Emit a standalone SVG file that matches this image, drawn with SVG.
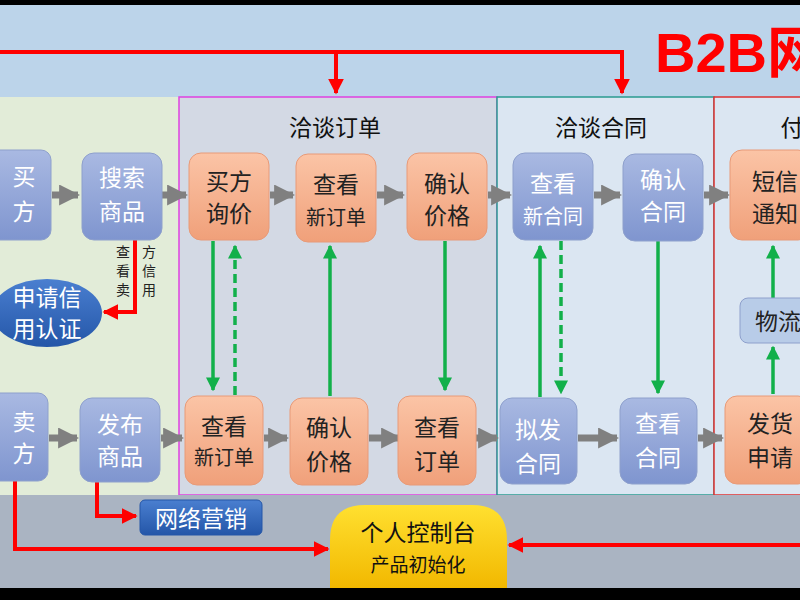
<svg xmlns="http://www.w3.org/2000/svg" width="800" height="600" viewBox="0 0 800 600">
<defs>
<linearGradient id="gb" x1="0" y1="0" x2="0" y2="1"><stop offset="0" stop-color="#a9b9e2"/><stop offset="1" stop-color="#7f95cf"/></linearGradient>
<linearGradient id="go" x1="0" y1="0" x2="0" y2="1"><stop offset="0" stop-color="#fbc4a6"/><stop offset="1" stop-color="#f0a07a"/></linearGradient>
<linearGradient id="gy" x1="0" y1="0" x2="0" y2="1"><stop offset="0" stop-color="#ffe030"/><stop offset="1" stop-color="#f2b800"/></linearGradient>
<linearGradient id="gd" x1="0" y1="0" x2="0" y2="1"><stop offset="0" stop-color="#4a7fd0"/><stop offset="1" stop-color="#2456a8"/></linearGradient>
<marker id="ag" viewBox="0 0 10 10" refX="9" refY="5" markerWidth="3" markerHeight="3" orient="auto"><path d="M0,0L10,5L0,10z" fill="#808080"/></marker>
<marker id="agr" viewBox="0 0 10 10" refX="9" refY="5" markerWidth="4" markerHeight="4" orient="auto"><path d="M0,0L10,5L0,10z" fill="#12b04a"/></marker>
<marker id="ar" viewBox="0 0 10 10" refX="9" refY="5" markerWidth="4" markerHeight="4" orient="auto"><path d="M0,0L10,5L0,10z" fill="#f00"/></marker>
</defs>
<style>
text{font-family:"Noto Sans CJK SC","DejaVu Sans",sans-serif;text-anchor:middle}
.b{fill:url(#gb);stroke:#8ea0cc}
.o{fill:url(#go);stroke:#e89a78}
.tw{fill:#fff;font-size:23px}
.tk{fill:#222;font-size:23px}
.sm{font-size:20px}
.vt{font-size:14px;fill:#222}
.g{stroke:#808080;stroke-width:7;fill:none;marker-end:url(#ag)}
.gr{stroke:#12b04a;stroke-width:3.5;fill:none;marker-end:url(#agr)}
.gd{stroke-dasharray:9,5}
.r{stroke:#f00;stroke-width:4;fill:none;marker-end:url(#ar)}
</style>
<rect width="800" height="600" fill="#000"/>
<rect x="0" y="5" width="800" height="583" fill="#bcd4ea"/>
<rect x="0" y="97" width="180" height="398" fill="#e2ecd8"/>
<rect x="179" y="97" width="318" height="398" fill="#d3d9e4" stroke="#e040e0" stroke-width="1.5"/>
<rect x="497" y="97" width="217" height="398" fill="#dbe6f2" stroke="#2a9a90" stroke-width="1.5"/>
<rect x="714" y="97" width="90" height="398" fill="#dbe6f2" stroke="#e03030" stroke-width="1.5"/>
<rect x="0" y="495" width="800" height="93" fill="#aab4c2"/>
<text x="655" y="72" fill="#f00" font-size="56" font-weight="bold" style="font-family:'Liberation Sans','Noto Sans CJK SC',sans-serif;text-anchor:start">B2B网</text>
<text x="335" y="136" font-size="23" fill="#111">洽谈订单</text>
<text x="601" y="136" font-size="23" fill="#111">洽谈合同</text>
<text x="792" y="136" font-size="23" fill="#111">付</text>
<g id="connectors">
<path class="r" d="M0,52H622V93" style="marker-end:none"/>
<path class="r" d="M336,52V93"/>
<path class="r" d="M622,52V93"/>
<path class="r" d="M135,240V312H104"/>
<path class="r" d="M97,482V516H136"/>
<path class="r" d="M15,480V549H328"/>
<path class="r" d="M800,545H509"/>
<path class="g" d="M52,195H78"/><path class="g" d="M162,195H186"/><path class="g" d="M270,195H293"/><path class="g" d="M377,195H403"/><path class="g" d="M488,195H510"/><path class="g" d="M594,195H620"/><path class="g" d="M704,195H728"/>
<path class="g" d="M49,438H77"/><path class="g" d="M161,438H182"/><path class="g" d="M264,438H287"/><path class="g" d="M369,438H400"/><path class="g" d="M476,438H497"/><path class="g" d="M578,438H617"/><path class="g" d="M698,438H722"/>
<path class="gr" d="M213,241V390"/><path class="gr gd" d="M235,395V246"/><path class="gr" d="M330,396V246"/><path class="gr" d="M445,241V390"/>
<path class="gr" d="M540,397V246"/><path class="gr gd" d="M561,241V393"/><path class="gr" d="M658,241V393"/>
<path class="gr" d="M773,394V347"/><path class="gr" d="M773,298V246"/>
</g>
<text class="vt" x="123" y="257">查</text><text class="vt" x="123" y="276">看</text><text class="vt" x="123" y="295">卖</text>
<text class="vt" x="149" y="257">方</text><text class="vt" x="149" y="276">信</text><text class="vt" x="149" y="295">用</text>
<g id="n1"><rect class="b" x="-10" y="150" width="61" height="90" rx="10"/><text class="tw" x="24" y="185">买</text><text class="tw" x="24" y="220">方</text></g>
<g id="n2"><rect class="b" x="82" y="153" width="80" height="87" rx="12"/><text class="tw" x="122" y="186">搜索</text><text class="tw" x="122" y="220">商品</text></g>
<g id="n3"><rect class="o" x="189" y="153" width="80" height="87" rx="12"/><text class="tk" x="229" y="190">买方</text><text class="tk" x="229" y="222">询价</text></g>
<g id="n4"><rect class="o" x="296" y="154" width="80" height="88" rx="12"/><text class="tk" x="336" y="193">查看</text><text class="tk sm" x="336" y="225">新订单</text></g>
<g id="n5"><rect class="o" x="407" y="153" width="80" height="87" rx="12"/><text class="tk" x="447" y="192">确认</text><text class="tk" x="447" y="224">价格</text></g>
<g id="n6"><rect class="b" x="513" y="153" width="80" height="87" rx="12"/><text class="tw" x="553" y="192">查看</text><text class="tw sm" x="553" y="224">新合同</text></g>
<g id="n7"><rect class="b" x="623" y="154" width="80" height="87" rx="12"/><text class="tw" x="663" y="188">确认</text><text class="tw" x="663" y="220">合同</text></g>
<g id="n8"><rect class="o" x="730" y="150" width="80" height="90" rx="12"/><text class="tk" x="775" y="190">短信</text><text class="tk" x="775" y="222">通知</text></g>
<g id="n9"><rect x="740" y="298" width="70" height="45" rx="8" fill="#b8cce8" stroke="#8ea0cc"/><text class="tk" x="778" y="330" font-size="21">物流</text></g>
<g id="n10"><ellipse cx="47" cy="313" rx="55" ry="34" fill="url(#gd)"/><text class="tw" x="47" y="306">申请信</text><text class="tw" x="47" y="337">用认证</text></g>
<g id="n11"><rect class="b" x="-10" y="393" width="58" height="88" rx="10"/><text class="tw" x="24" y="430">卖</text><text class="tw" x="24" y="462">方</text></g>
<g id="n12"><rect class="b" x="80" y="398" width="80" height="84" rx="12"/><text class="tw" x="120" y="433">发布</text><text class="tw" x="120" y="465">商品</text></g>
<g id="n13"><rect class="o" x="185" y="396" width="78" height="89" rx="12"/><text class="tk" x="224" y="435">查看</text><text class="tk sm" x="224" y="465">新订单</text></g>
<g id="n14"><rect class="o" x="290" y="398" width="78" height="87" rx="12"/><text class="tk" x="329" y="436">确认</text><text class="tk" x="329" y="470">价格</text></g>
<g id="n15"><rect class="o" x="398" y="396" width="78" height="89" rx="12"/><text class="tk" x="437" y="436">查看</text><text class="tk" x="437" y="470">订单</text></g>
<g id="n16"><rect class="b" x="500" y="398" width="77" height="86" rx="12"/><text class="tw" x="538" y="438">拟发</text><text class="tw" x="538" y="472">合同</text></g>
<g id="n17"><rect class="b" x="620" y="398" width="77" height="86" rx="12"/><text class="tw" x="658" y="432">查看</text><text class="tw" x="658" y="466">合同</text></g>
<g id="n18"><rect class="o" x="725" y="396" width="85" height="88" rx="12"/><text class="tk" x="770" y="432">发货</text><text class="tk" x="770" y="466">申请</text></g>
<g id="n19"><rect x="140" y="500" width="122" height="35" rx="5" fill="url(#gd)" stroke="#2456a8"/><text class="tw" x="201" y="527" font-size="22">网络营销</text></g>
<g id="n20"><path d="M330,588V540Q330,505 365,505H472Q507,505 507,540V588Z" fill="url(#gy)"/><text x="418" y="541" font-size="23" fill="#111">个人控制台</text><text x="418" y="572" font-size="19" fill="#111">产品初始化</text></g>
</svg>
